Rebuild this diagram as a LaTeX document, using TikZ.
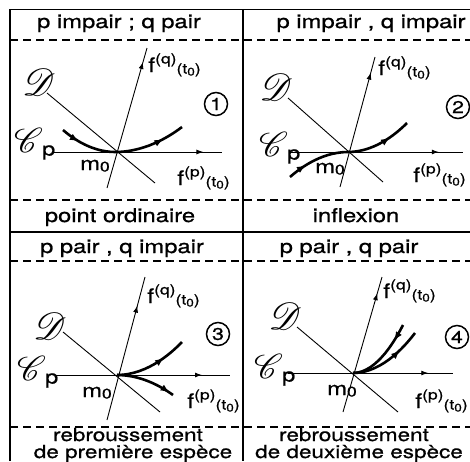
\documentclass[tikz,border=0pt]{standalone}
\usepackage{fontspec}
\setmainfont[FakeStretch=1.25,FakeBold=0.8]{TeX Gyre Heros}
\usepackage{mathrsfs}
\usepackage{graphicx}
\usetikzlibrary{arrows.meta,decorations.markings}

\newcommand\Fd[1]{{\fontsize{20}{20}\selectfont f\raisebox{8.5pt}{\fontsize{14}{14}\selectfont(#1)}\raisebox{-1.5pt}{\fontsize{14}{14}\selectfont(t\raisebox{-2pt}{\fontsize{11}{11}\selectfont 0})}}}
\newcommand\Mo{m\raisebox{-1.5pt}{\fontsize{14}{14}\selectfont 0}}
\newcommand\Cp{\scalebox{2.0}{$\mathscr{C}$}\kern-1pt\raisebox{-3pt}{p}}
\newcommand\Dd{\scalebox{2.2}{$\mathscr{D}$}}

\begin{document}
\begin{tikzpicture}[x=1pt,y=-1pt,
  frame/.style={line width=1.4pt},
  dashline/.style={line width=1.3pt, dash pattern=on 8pt off 5pt},
  thinline/.style={line width=0.9pt},
  curveline/.style={line width=2.6pt},
  arrowat/.style={postaction={decorate,decoration={markings,mark=at position #1 with {\arrow{Latex[length=7pt,width=5pt]}}}}},
  cmark/.style={postaction={decorate,decoration={markings,mark=at position #1 with {\arrow{Latex[length=9pt,width=7pt]}}}}},
  rmark/.style={postaction={decorate,decoration={markings,mark=at position #1 with {\arrowreversed{Latex[length=9pt,width=7pt]}}}}},
  lab/.style={inner sep=0pt, font=\fontsize{19}{19}\selectfont},
  title/.style={inner sep=0pt, anchor=base, font=\fontsize{19}{19}\selectfont},
  sub/.style={inner sep=0pt, anchor=base, font=\fontsize{18}{18}\selectfont},
  num/.style={circle, draw, line width=1.5pt, minimum size=23pt, inner sep=0pt, font=\fontsize{17}{17}\selectfont},
]
\useasboundingbox (0,0) rectangle (470,461);

% frame
\coordinate (tl) at (10,9.5);
\coordinate (tr) at (470,9.5);
\coordinate (bl) at (10,461);
\coordinate (tm) at (243,9.5);
\coordinate (bm) at (243,461);
\draw[frame] (bl) -- (tl) -- (tr);
\draw[frame] (tm) -- (bm);
\coordinate (sl) at (10,232); \coordinate (sr) at (470,232);
\draw[frame] (sl) -- (sr);
\foreach \yy/\nm in {40/a,200/b,261/c,427/d}{
  \coordinate (dl\nm) at (10,\yy); \coordinate (dr\nm) at (470,\yy);
  \draw[dashline] (dl\nm) -- (dr\nm);
}

% titles
\node[title] (t1) at (119,28) {p impair ; q pair};
\node[title] (t2) at (371,28) {p impair , q impair};
\node[title] (t3) at (120,222) {point ordinaire};
\node[title] (t4) at (356,222) {inflexion};
\node[title] (t5) at (122,253) {p pair , q impair};
\node[title] (t6) at (349,253) {p pair , q pair};
\node[sub] (t7) at (128,441) {rebroussement};
\node[sub] (t8) at (133,458) {de première espèce};
\node[sub] (t9) at (354,441) {rebroussement};
\node[sub] (t10) at (359,458) {de deuxième espèce};

% panel 1
\coordinate (m1) at (115,152);
\coordinate (h1a) at (53,152); \coordinate (h1b) at (222,152);
\coordinate (q1a) at (107,188); \coordinate (q1b) at (147,48);
\coordinate (d1a) at (47,93); \coordinate (d1b) at (155,183);
\coordinate (c1a) at (63,130); \coordinate (c1b) at (182,127);
\draw[thinline, arrowat=0.89] (h1a) -- (h1b);
\draw[thinline, arrowat=0.9] (q1a) -- (q1b);
\draw[thinline] (d1a) -- (d1b);
\draw[curveline, cmark=0.15, cmark=0.83] (c1a) parabola bend (m1) (c1b);
\node[lab, anchor=base west] (fq1) at (148,72) {\Fd{q}};
\node[lab, anchor=base west] (fp1) at (177,185) {\Fd{p}};
\node[lab, anchor=base west] (mo1) at (80,170) {\Mo};
\node[lab, anchor=west] (cp1) at (14,144) {\Cp};
\node[lab] (dd1) at (39,82) {\Dd};
\node[num] (n1) at (216,104) {1};

% panel 2
\coordinate (m2) at (348,152);
\coordinate (h2a) at (290,152); \coordinate (h2b) at (463,152);
\coordinate (q2a) at (340,187); \coordinate (q2b) at (375,57);
\coordinate (d2a) at (288,98); \coordinate (d2b) at (383,182);
\coordinate (c2a) at (290,177); \coordinate (c2b) at (407,123);
\draw[thinline, arrowat=0.86] (h2a) -- (h2b);
\draw[thinline, arrowat=0.88] (q2a) -- (q2b);
\draw[thinline] (d2a) -- (d2b);
\draw[curveline, cmark=0.15, cmark=0.83] (c2a) parabola bend (m2) (c2b);
\node[lab, anchor=base west] (fq2) at (378,75) {\Fd{q}};
\node[lab, anchor=base west] (fp2) at (413,182) {\Fd{p}};
\node[lab, anchor=base west] (mo2) at (315,173) {\Mo};
\node[lab, anchor=west] (cp2) at (259,148) {\Cp};
\node[lab] (dd2) at (276,87) {\Dd};
\node[num] (n2) at (458,107) {2};

% panel 3
\coordinate (m3) at (117,375);
\coordinate (h3a) at (55,375); \coordinate (h3b) at (230,375);
\coordinate (q3a) at (107,420); \coordinate (q3b) at (145,277);
\coordinate (d3a) at (63,332); \coordinate (d3b) at (160,412);
\coordinate (c3a) at (182,342); \coordinate (c3b) at (173,395);
\draw[thinline, arrowat=0.84] (h3a) -- (h3b);
\draw[thinline, arrowat=0.8] (q3a) -- (q3b);
\draw[thinline] (d3a) -- (d3b);
\draw[curveline, cmark=0.68] (m3) parabola (c3a);
\draw[curveline, cmark=0.93] (m3) parabola (c3b);
\node[lab, anchor=base west] (fq3) at (147,303) {\Fd{q}};
\node[lab, anchor=base west] (fp3) at (187,408) {\Fd{p}};
\node[lab, anchor=base west] (mo3) at (82,397) {\Mo};
\node[lab, anchor=west] (cp3) at (17,372) {\Cp};
\node[lab] (dd3) at (50,326) {\Dd};
\node[num] (n3) at (218,334) {3};

% panel 4
\coordinate (m4) at (353,373);
\coordinate (h4a) at (288,373); \coordinate (h4b) at (453,373);
\coordinate (q4a) at (343,412); \coordinate (q4b) at (382,277);
\coordinate (d4a) at (297,327); \coordinate (d4b) at (398,412);
\coordinate (c4a) at (403,325); \coordinate (c4b) at (415,333);
\draw[thinline, arrowat=0.85] (h4a) -- (h4b);
\draw[thinline, arrowat=0.88] (q4a) -- (q4b);
\draw[thinline] (d4a) -- (d4b);
\draw[curveline, rmark=0.75] (m4) parabola (c4a);
\draw[curveline, cmark=0.7] (m4) parabola (c4b);
\node[lab, anchor=base west] (fq4) at (383,298) {\Fd{q}};
\node[lab, anchor=base west] (fp4) at (415,408) {\Fd{p}};
\node[lab, anchor=base west] (mo4) at (327,395) {\Mo};
\node[lab, anchor=west] (cp4) at (254,370) {\Cp};
\node[lab] (dd4) at (285,316) {\Dd};
\node[num] (n4) at (457,337) {4};
\end{tikzpicture}
\end{document}
